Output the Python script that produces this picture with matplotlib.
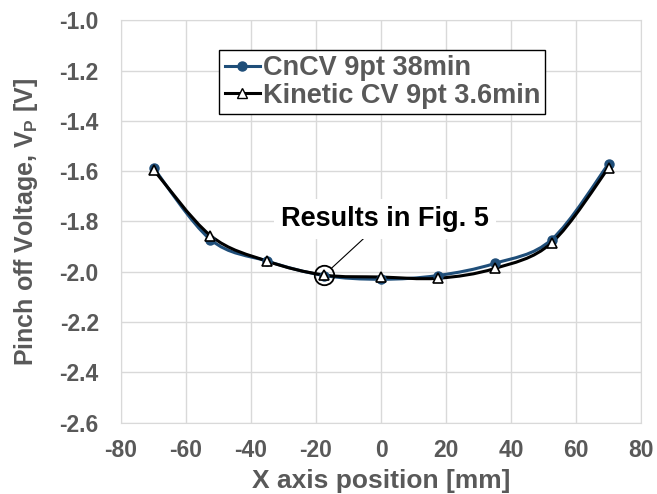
import matplotlib
matplotlib.use('Agg')
import matplotlib.pyplot as plt
from matplotlib.path import Path
from matplotlib.patches import PathPatch

plt.rcParams['font.family'] = ['Liberation Sans', 'DejaVu Sans']
plt.rcParams['font.weight'] = 'bold'
plt.rcParams['axes.labelweight'] = 'bold'
plt.rcParams['axes.unicode_minus'] = False
plt.rcParams['mathtext.fontset'] = 'custom'
plt.rcParams['mathtext.rm'] = 'Liberation Sans:bold'
plt.rcParams['mathtext.bf'] = 'Liberation Sans:bold'

# --- data ---
x_pos = [-70, -52.5, -35, -17.5, 0, 17.5, 35, 52.5, 70]
cncv = [-1.587, -1.872, -1.958, -2.015, -2.030, -2.015, -1.967, -1.872, -1.571]
kinetic = [-1.594, -1.856, -1.958, -2.013, -2.021, -2.026, -1.987, -1.885, -1.587]
labels = ['CnCV 9pt 38min', 'Kinetic CV 9pt 3.6min']
y_ticks = [-1.0, -1.2, -1.4, -1.6, -1.8, -2.0, -2.2, -2.4, -2.6]
x_ticks = [-80, -60, -40, -20, 0, 20, 40, 60, 80]

GRAY = '#595959'
BLUE = '#1F4E79'


def smooth_path(xs, ys):
    # Excel-like smoothed line: cubic bezier through the points
    verts = [(xs[0], ys[0])]
    codes = [Path.MOVETO]
    n = len(xs)
    for i in range(n - 1):
        x0, y0 = (xs[i - 1], ys[i - 1]) if i > 0 else (xs[i], ys[i])
        x1, y1 = xs[i], ys[i]
        x2, y2 = xs[i + 1], ys[i + 1]
        x3, y3 = (xs[i + 2], ys[i + 2]) if i + 2 < n else (x2, y2)
        c1 = (x1 + (x2 - x0) / 6, y1 + (y2 - y0) / 6)
        c2 = (x2 - (x3 - x1) / 6, y2 - (y3 - y1) / 6)
        verts += [c1, c2, (x2, y2)]
        codes += [Path.CURVE4] * 3
    return Path(verts, codes)


fig = plt.figure(figsize=(6.57, 4.94), dpi=100)
ax = fig.add_axes([0.1842, 0.1445, 0.7915, 0.8145])

ax.add_patch(PathPatch(smooth_path(x_pos, cncv), fill=False, edgecolor=BLUE, lw=2.2, zorder=3))
ax.add_patch(PathPatch(smooth_path(x_pos, kinetic), fill=False, edgecolor='black', lw=2.2, zorder=4))
ax.plot(x_pos, cncv, ls='none', marker='o', ms=6.5, mfc=BLUE, mec=BLUE, zorder=5)
ax.plot(x_pos, kinetic, ls='none', marker='^', ms=7.5, mfc='white', mec='black', mew=1.2, zorder=6)

# legend proxies
h1, = ax.plot([], [], color=BLUE, lw=2.2, marker='o', ms=6.5, mfc=BLUE, mec=BLUE)
h2, = ax.plot([], [], color='black', lw=2.2, marker='^', ms=7.5, mfc='white', mec='black')
leg = ax.legend([h1, h2], labels, loc='upper left', bbox_to_anchor=(0.189, 0.926),
                fontsize=19.5, handlelength=1.3, handletextpad=0.1, labelspacing=0.05,
                borderpad=0.2, borderaxespad=0, fancybox=False, framealpha=1)
leg.get_frame().set_edgecolor('black')
leg.get_frame().set_linewidth(1.0)
for t in leg.get_texts():
    t.set_color(GRAY)

# annotation
ax.plot([x_pos[3]], [kinetic[3]], ls='none', marker='o', ms=14, mfc='none', mec='black', mew=1.3, zorder=7)
ax.annotate('Results in Fig. 5', xy=(x_pos[3], kinetic[3]), xytext=(1.2, -1.79),
            ha='center', va='center', fontsize=19.5, color='black',
            bbox=dict(boxstyle='square,pad=0.25', fc='white', ec='none'),
            arrowprops=dict(arrowstyle='-', color='black', lw=0.8, shrinkA=0, shrinkB=7),
            zorder=8)

ax.set_xlim(-80, 80)
ax.set_ylim(-2.6, -1.0)
ax.set_xticks(x_ticks)
ax.set_yticks(y_ticks)
ax.set_yticklabels([f'{v:.1f}' for v in y_ticks])
ax.grid(True, color='#D9D9D9', lw=1.0)
ax.set_axisbelow(True)
for s in ax.spines.values():
    s.set_color('#D9D9D9')
ax.tick_params(length=0, labelsize=16.5, colors=GRAY)
ax.tick_params(axis='x', pad=12)
ax.tick_params(axis='y', pad=16)

ax.set_xlabel('X axis position [mm]', fontsize=19, color=GRAY, labelpad=5)
ax.set_ylabel(r'Pinch off Voltage, V$_\mathbf{P}$ [V]', fontsize=18, color=GRAY, labelpad=14)

fig.savefig('out.png', dpi=100)
